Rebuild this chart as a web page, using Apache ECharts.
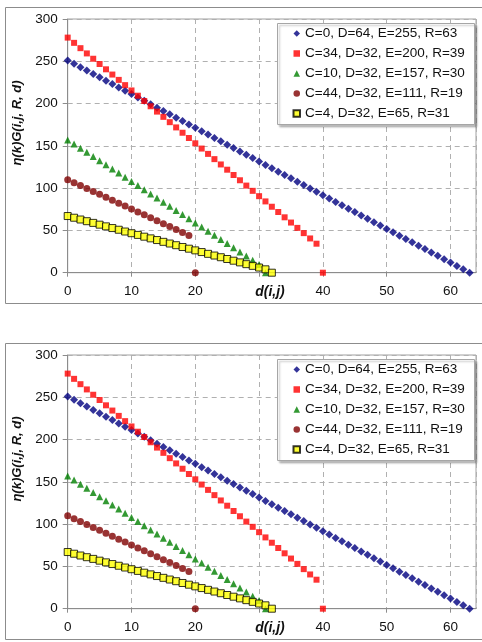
<!DOCTYPE html>
<html>
<head>
<meta charset="utf-8">
<script src="https://cdn.jsdelivr.net/npm/echarts@6/dist/echarts.min.js"></script>
<style>
html,body{margin:0;padding:0;background:#fff;}
#chart{width:482px;height:642px;}
</style>
</head>
<body>
<div id="chart"></div>
<script>
// ---- data (index = d(i,j)) ----
const seriesNames = [
  'C=0, D=64, E=255, R=63',
  'C=34, D=32, E=200, R=39',
  'C=10, D=32, E=157, R=30',
  'C=44, D=32, E=111, R=19',
  'C=4, D=32, E=65, R=31'
];
const blueVals = [251.0,247.0,243.0,239.1,235.1,231.1,227.1,223.1,219.1,215.2,211.2,207.2,203.2,199.2,195.2,191.2,
  187.3,183.3,179.3,175.3,171.3,167.3,163.4,159.4,155.4,151.4,147.4,143.4,139.5,135.5,131.5,127.5,
  123.5,119.5,115.5,111.6,107.6,103.6,99.6,95.6,91.6,87.7,83.7,79.7,75.7,71.7,67.7,63.7,
  59.8,55.8,51.8,47.8,43.8,39.8,35.9,31.9,27.9,23.9,19.9,15.9,12.0,8.0,4.0,0.0];
const redVals = [278,271.8,265.5,259.3,253,246.8,240.5,234.3,228,221.8,215.5,209.3,203,196.8,190.5,184.3,
  178,171.8,165.5,159.3,153,146.8,140.5,134.3,128,121.8,115.5,109.3,103,96.8,90.5,84.3,
  78,71.8,65.5,59.3,53,46.8,40.5,34.3,0];
const greenVals = [157,152.1,147.2,142.3,137.4,132.5,127.6,122.7,117.8,112.8,107.9,103.0,98.1,93.2,88.3,83.4,
  78.5,73.6,68.7,63.8,58.9,54.0,49.1,44.2,39.3,34.4,29.4,24.5,19.6,14.7,9.8,0];
const brownVals = [110,106.5,103.1,99.6,96.1,92.7,89.2,85.7,82.2,78.8,75.3,71.8,68.4,64.9,61.4,58.0,
  54.5,51.0,47.5,44.1,0];
const yellowVals = [67,65,62.9,60.9,58.9,56.8,54.8,52.8,50.8,48.7,46.7,44.7,42.6,40.6,38.6,36.5,
  34.5,32.5,30.4,28.4,26.4,24.4,22.3,20.3,18.3,16.2,14.2,12.2,10.1,8.1,6.1,4.0,0];
const xTicks = [0,10,20,40,50,60];   // 30 is covered by the axis title
const yTicks = [0,50,100,150,200,250,300];
const xTitle = 'd(i,j)';
const yTitle = 'η(k)G(i,j, R, d)';

const styles = [
  {symbol:'diamond', symbolSize:8, itemStyle:{color:'#000080'}},
  {symbol:'rect', symbolSize:6, itemStyle:{color:'#FF0000'}},
  {symbol:'triangle', symbolSize:7, itemStyle:{color:'#008000'}},
  {symbol:'circle', symbolSize:7, itemStyle:{color:'#800000'}},
  {symbol:'rect', symbolSize:7, itemStyle:{color:'#FFFF00', borderColor:'#000', borderWidth:1}}
];
const allVals = [blueVals, redVals, greenVals, brownVals, yellowVals];

const panelOffset = 336;
const panels = [0, 1];
const FONT = '"Liberation Sans", Arial, sans-serif';

const grids = [], xAxes = [], yAxes = [], series = [], legends = [], graphics = [];
panels.forEach(function (p) {
  const off = p * panelOffset;
  graphics.push({type:'rect', z:-10, shape:{x:5.5, y:7.5 + off, width:490, height:296},
    style:{fill:'#fff', stroke:'#8c8c8c', lineWidth:1}, silent:true});
  graphics.push({type:'rect', z:3, shape:{x:277.5, y:23.5 + off, width:197, height:101},
    style:{fill:'#fff', stroke:'#a6a6a6', lineWidth:1, shadowColor:'rgba(0,0,0,0.25)', shadowBlur:2, shadowOffsetX:2, shadowOffsetY:2}});
  graphics.push({type:'text', z:5, x:270, y:292 + off,
    style:{text:xTitle, font:'italic bold 14px ' + FONT, fill:'#111', align:'center', verticalAlign:'middle'}});
  graphics.push({type:'text', z:5, x:17, y:123 + off, rotation:Math.PI/2,
    style:{text:yTitle, font:'italic bold 13px ' + FONT, fill:'#111', align:'center', verticalAlign:'middle'}});

  grids.push({left:67.7, top:19 + off, width:408.3, height:253.7, show:true, borderColor:'#a0a0a0', borderWidth:1, backgroundColor:'transparent'});
  xAxes.push({type:'value', gridIndex:p, min:0, max:64, interval:10,
    axisLine:{show:true, onZero:false, lineStyle:{color:'#8c8c8c'}},
    axisTick:{show:true, length:4, inside:false, lineStyle:{color:'#8c8c8c'}},
    splitLine:{show:true, lineStyle:{color:'#b0b0b0', type:[5,4]}},
    axisLabel:{margin:12, color:'#111', fontFamily:FONT, fontSize:13.5, showMaxLabel:false,
      formatter:function (v) { return xTicks.indexOf(v) >= 0 ? String(v) : ''; }}
  });
  yAxes.push({type:'value', gridIndex:p, min:0, max:300, interval:50,
    axisLine:{show:true, lineStyle:{color:'#8c8c8c'}},
    axisTick:{show:true, length:5, lineStyle:{color:'#8c8c8c'}},
    splitLine:{show:true, lineStyle:{color:'#b0b0b0', type:[5,4]}},
    axisLabel:{margin:10, color:'#111', fontFamily:FONT, fontSize:13.5,
      formatter:function (v) { return yTicks.indexOf(v) >= 0 ? String(v) : ''; }}
  });
  allVals.forEach(function (vals, k) {
    series.push(Object.assign({
      type:'scatter', name:seriesNames[k], xAxisIndex:p, yAxisIndex:p,
      data: vals.map(function (v, i) { return [i, v]; }),
      emphasis:{disabled:true}, animation:false, z:2 + k*0.01
    }, styles[k]));
  });
  legends.push({orient:'vertical', left:292.5, top:26 + off, padding:0, itemGap:5,
    itemWidth:6.5, itemHeight:6.5, z:6, backgroundColor:'transparent', selectedMode:false,
    data: seriesNames,
    textStyle:{fontFamily:FONT, fontSize:13.5, color:'#111', lineHeight:15, padding:[0,0,0,0]}
  });
});

const chart = echarts.init(document.getElementById('chart'), null, {renderer:'canvas'});
chart.setOption({
  animation:false,
  backgroundColor:'#fff',
  grid: grids, xAxis: xAxes, yAxis: yAxes, series: series, legend: legends,
  graphic: graphics
});
</script>
</body>
</html>
